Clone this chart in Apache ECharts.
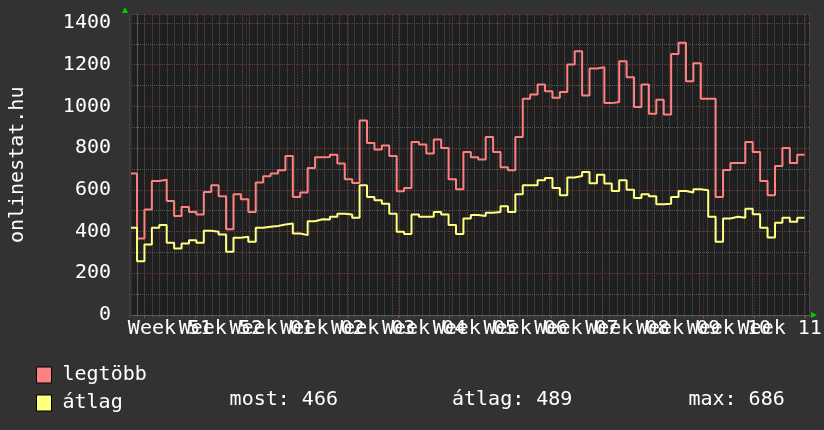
<!DOCTYPE html>
<html>
<head>
<meta charset="utf-8">
<script src="https://cdn.jsdelivr.net/npm/echarts@6/dist/echarts.min.js"></script>
<style>
html,body{margin:0;padding:0;background:#323232;}
#c{width:824px;height:430px;}
</style>
</head>
<body>
<div id="c"></div>
<script>
// ---- data (one value per day, first entry is the partial day before the first grid line) ----
var firstDay = -1;
var legtobb = [678,367,506,643,648,547,475,518,494,482,590,622,569,411,579,555,494,635,665,678,694,762,566,587,705,756,758,769,726,651,633,933,825,794,813,762,593,609,829,817,774,842,801,651,603,782,756,746,853,782,708,694,853,1037,1057,1105,1073,1042,1069,1201,1265,1053,1182,1188,1016,1021,1217,1140,997,1105,965,1032,962,1252,1305,1121,1207,1037,1037,566,695,729,729,829,782,643,574,715,801,729,769];
var atlag = [418,258,338,418,431,346,319,343,359,346,404,399,386,303,370,375,351,418,423,427,434,439,391,383,450,459,458,471,486,482,466,622,566,550,533,486,399,389,482,471,471,494,482,431,388,463,479,475,490,494,522,494,579,622,622,646,657,609,574,659,667,686,632,673,630,595,646,601,561,579,569,531,534,566,595,587,603,598,471,351,463,471,466,510,483,418,372,442,466,447,466];
var weekLabels = ['Week 51','Week 52','Week 01','Week 02','Week 03','Week 04','Week 05','Week 06','Week 07','Week 08','Week 09','Week 10','Week 11'];
var seriesNames = ['legtöbb','átlag'];
var statLabels = ['most: 466','átlag: 489','max: 686'];
var yTicks = {min:0, max:1440, major:200, minor:100};

function toPoints(arr){
  var pts = [];
  for (var i=0;i<arr.length;i++) pts.push([firstDay+i, arr[i]]);
  pts.push([firstDay+arr.length, arr[arr.length-1]]);
  return pts;
}

var FONT = "'DejaVu Sans Mono', monospace";
var RED = '#ff8080', YEL = '#ffff80';
var MINOR = '#585858', MAJOR = '#7a3838';

var chart = echarts.init(document.getElementById('c'), null, {renderer:'canvas'});
var gTop = 14.7, gBottom = 430-315;
var dayPx = 7.5, day0 = 129.6, plotLeft = 124.5, plotRight = 809;

var option = {
  backgroundColor: '#323232',
  animation: false,
  grid: [
    {left:plotLeft, right:824-plotRight, top:gTop, bottom:gBottom, show:true, backgroundColor:'#1f1f1f', borderWidth:0, z:-10},
    {left:day0, right:824-plotRight, top:gTop, bottom:gBottom},
    {left:day0+2*dayPx, width:13*7*dayPx, top:gTop, bottom:gBottom}
  ],
  xAxis: [
    {gridIndex:0, type:'value', min:-(day0-plotLeft)/dayPx, max:(plotRight-day0)/dayPx, z:3,
     axisLine:{show:true, lineStyle:{color:'#5a5a5a', width:1}}, axisTick:{show:false}, axisLabel:{show:false}, splitLine:{show:false}},
    {gridIndex:1, type:'value', min:0, max:(plotRight-day0)/dayPx, interval:1, z:1,
     axisLine:{show:false}, axisTick:{show:true, length:2, lineStyle:{color:MINOR}}, axisLabel:{show:false},
     splitLine:{show:true, lineStyle:{color:MINOR, type:'dotted', width:1}}},
    {gridIndex:2, type:'category', data:weekLabels, boundaryGap:true, z:2,
     axisLine:{show:false}, axisTick:{show:true, length:3, lineStyle:{color:'#b04444'}},
     axisLabel:{show:true, interval:0, color:'#ffffff', fontSize:20, fontFamily:FONT, margin:4, hideOverlap:false},
     splitLine:{show:true, interval:0, lineStyle:{color:MAJOR, type:[1,2], width:1}}}
  ],
  yAxis: [
    {gridIndex:0, type:'value', min:yTicks.min, max:yTicks.max, interval:yTicks.major, z:2,
     name:'onlinestat.hu', nameLocation:'middle', nameGap:104, nameRotate:90,
     nameTextStyle:{color:'#ffffff', fontSize:20, fontFamily:FONT},
     axisLine:{show:true, lineStyle:{color:'#5a5a5a'}}, axisTick:{show:false},
     axisLabel:{color:'#ffffff', fontSize:20, fontFamily:FONT, margin:21, showMaxLabel:false,
       formatter:function(v){return String(v);}},
     splitLine:{show:true, lineStyle:{color:MAJOR, type:'dotted', width:1}}},
    {gridIndex:0, type:'value', min:yTicks.min, max:yTicks.max, interval:yTicks.minor, z:1,
     axisLine:{show:false}, axisTick:{show:false}, axisLabel:{show:false},
     splitLine:{show:true, lineStyle:{color:MINOR, type:'dotted', width:1}}},
    {gridIndex:1, type:'value', min:yTicks.min, max:yTicks.max, show:false, splitLine:{show:false}},
    {gridIndex:2, type:'value', min:yTicks.min, max:yTicks.max, show:false, splitLine:{show:false}}
  ],
  legend: {
    orient:'vertical', left:31, top:360, itemWidth:15, itemHeight:16, itemGap:8, icon:'rect',
    selectedMode:false,
    itemStyle:{borderColor:'#000', borderWidth:1},
    textStyle:{color:'#ffffff', fontSize:20, fontFamily:FONT, padding:[0,0,0,6]},
    data: seriesNames
  },
  series: [
    {name:seriesNames[0], type:'line', xAxisIndex:0, yAxisIndex:0, step:'end', showSymbol:false, z:5,
     color:RED, lineStyle:{color:RED, width:2}, data: toPoints(legtobb), clip:true},
    {name:seriesNames[1], type:'line', xAxisIndex:0, yAxisIndex:0, step:'end', showSymbol:false, z:5,
     color:YEL, lineStyle:{color:YEL, width:2}, data: toPoints(atlag), clip:true}
  ],
  graphic: [
    {type:'polygon', shape:{points:[[122,13],[128,13],[125,7]]}, style:{fill:'#00cc00'}, z:10},
    {type:'polygon', shape:{points:[[811,312],[811,318],[817,315]]}, style:{fill:'#00cc00'}, z:10},
    {type:'text', x:229.6, y:400, style:{text:statLabels[0], fill:'#ffffff', font:'20px '+FONT, verticalAlign:'middle'}},
    {type:'text', x:452, y:400, style:{text:statLabels[1], fill:'#ffffff', font:'20px '+FONT, verticalAlign:'middle'}},
    {type:'text', x:688.4, y:400, style:{text:statLabels[2], fill:'#ffffff', font:'20px '+FONT, verticalAlign:'middle'}}
  ]
};
chart.setOption(option);
</script>
</body>
</html>
